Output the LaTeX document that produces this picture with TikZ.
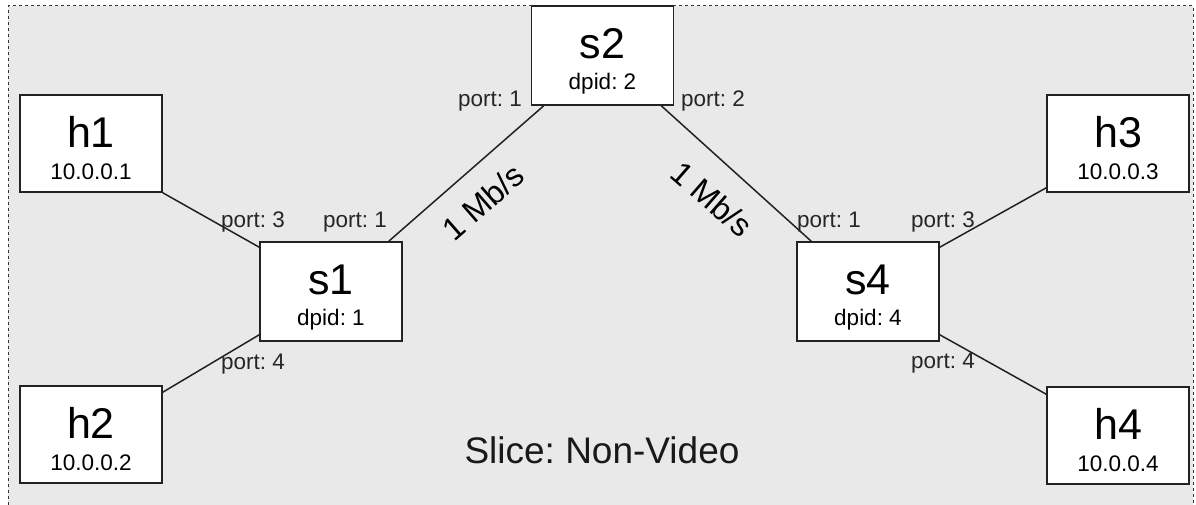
\documentclass[tikz,border=0pt]{standalone}
\usepackage{fontspec}
\setmainfont{Liberation Sans}
\frenchspacing
\definecolor{bggray}{HTML}{E9E9E9}
\definecolor{edgegray}{HTML}{222222}
\begin{document}
\begin{tikzpicture}[x=1pt,y=-1pt,
  box/.style={draw=edgegray,fill=white,line width=1.6pt,minimum width=142pt,minimum height=97pt,inner sep=0pt},
  sbox/.style={box,minimum height=99pt},
  title/.style={font=\fontsize{43}{43}\selectfont,anchor=base,inner sep=0pt},
  sub/.style={font=\fontsize{22.5}{22.5}\selectfont,anchor=base,inner sep=0pt},
  portlbl/.style={font=\fontsize{22.5}{22.5}\selectfont,anchor=base,inner sep=0pt,text=black!85},
  rate/.style={font=\fontsize{32}{32}\selectfont,inner sep=0pt},
  link/.style={draw=edgegray,line width=1.5pt}]
\useasboundingbox (0,0) rectangle (1196,505);
% slice area
\fill[bggray] (8,6) rectangle (1193,505);
\draw[black!80,line width=1pt,dash pattern=on 3pt off 3pt] (8,505) -- (8,6) -- (1193,6) -- (1193,505);

\node[box] (h1) at (91,143.5) {};
\node[box] (h2) at (91,434.5) {};
\node[box] (h3) at (1118,143.5) {};
\node[box] (h4) at (1118,435.5) {};
\node[sbox] (s1) at (331,291.5) {};
\node[sbox] (s2) at (602.5,55.5) {};
\node[sbox] (s4) at (868,291.5) {};

\draw[link] (h1.south east) -- ([yshift=-6pt]s1.north west);
\draw[link] ([yshift=-7pt]h2.north east) -- ([yshift=7pt]s1.south west);
\draw[link] ([xshift=-14pt]s1.north east) -- ([xshift=13pt]s2.south west);
\draw[link] ([xshift=-13pt]s2.south east) -- ([xshift=15pt]s4.north west);
\draw[link] ([yshift=-6pt]s4.north east) -- ([yshift=5pt]h3.south west);
\draw[link] ([yshift=7pt]s4.south east) -- ([yshift=-8pt]h4.north west);

% node texts
\node[title] (h1t) at ([yshift=-53pt]h1.north) {h1};
\node[sub] (h1s) at ([yshift=-85pt]h1.north) {10.0.0.1};
\node[title] (h2t) at ([yshift=-53pt]h2.north) {h2};
\node[sub] (h2s) at ([yshift=-85pt]h2.north) {10.0.0.2};
\node[title] (h3t) at ([yshift=-53pt]h3.north) {h3};
\node[sub] (h3s) at ([yshift=-85pt]h3.north) {10.0.0.3};
\node[title] (h4t) at ([yshift=-53pt]h4.north) {h4};
\node[sub] (h4s) at ([yshift=-85pt]h4.north) {10.0.0.4};
\node[title] (s1t) at ([yshift=-53pt]s1.north) {s1};
\node[sub] (s1s) at ([yshift=-84pt]s1.north) {dpid: 1};
\node[title] (s2t) at ([yshift=-53pt]s2.north) {s2};
\node[sub] (s2s) at ([yshift=-84pt]s2.north) {dpid: 2};
\node[title] (s4t) at ([yshift=-53pt]s4.north) {s4};
\node[sub] (s4s) at ([yshift=-84pt]s4.north) {dpid: 4};

% port labels
\node[portlbl] (p13) at (253,227) {port: 3};
\node[portlbl] (p11) at (355,227) {port: 1};
\node[portlbl] (p14) at (253,369) {port: 4};
\node[portlbl] (p21) at (490,107) {port: 1};
\node[portlbl] (p22) at (713,107) {port: 2};
\node[portlbl] (p41) at (829,227) {port: 1};
\node[portlbl] (p43) at (943,227) {port: 3};
\node[portlbl] (p44) at (943,368) {port: 4};

% link rates
\node[rate,rotate=41] (r12) at (483,202) {1 Mb/s};
\node[rate,rotate=-41] (r24) at (712,199) {1 Mb/s};

% slice caption
\node[font=\fontsize{37}{37}\selectfont,anchor=base,inner sep=0pt,text=black!90] (slice) at (602,463) {Slice: Non-Video};
\end{tikzpicture}
\end{document}
